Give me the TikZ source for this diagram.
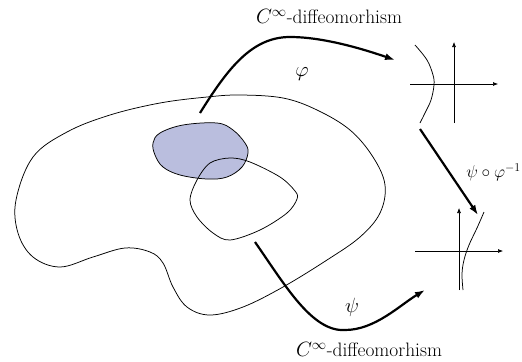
\documentclass[tikz,border=0pt]{standalone}
\usetikzlibrary{arrows.meta}
\definecolor{shade}{RGB}{186,190,222}
\begin{document}
\begin{tikzpicture}[x=1bp,y=-1bp,
  thinline/.style={line width=0.75bp},
  axis/.style={line width=0.6bp,-{Latex[length=5bp,width=4bp]}},
  maparrow/.style={line width=2.2bp,-{Latex[length=10bp,width=7bp]}},
  lbl/.style={inner sep=0pt,font=\fontsize{19.5}{23}\selectfont}]
\useasboundingbox (0,0) rectangle (522,361);
% outer manifold
\draw[thinline] plot[smooth cycle,tension=0.6] coordinates {
 (16,200) (33,157) (67,132) (110,115) (160,103) (207,97) (240,95) (283,98)
 (317,110) (350,130) (373,157) (385,185) (380,213) (360,237) (327,260)
 (283,287) (243,307) (210,315) (187,307) (173,287) (163,263) (150,252)
 (125,248) (93,257) (60,267) (33,257) (18,233)};
% shaded patch
\draw[thinline,fill=shade] plot[smooth cycle,tension=0.6] coordinates {
 (153,143) (160,133) (183,125) (217,123) (233,130) (245,143) (248,153)
 (242,167) (227,177) (207,179) (180,175) (163,167) (155,155)};
% inner loop
\draw[thinline] plot[smooth cycle,tension=0.55] coordinates {
 (230,158) (250,162) (280,177) (295,191) (297,199) (287,213) (260,230)
 (230,240) (213,233) (197,217) (190,200) (197,180) (210,163)};
% top chart
\coordinate (t0) at (454,123);
\coordinate (t1) at (454,42);
\coordinate (h0) at (410,84);
\coordinate (h1) at (498,84);
\draw[axis] (t0) -- (t1);
\draw[axis] (h0) -- (h1);
\draw[thinline] plot[smooth,tension=0.6] coordinates {
 (415,45) (427,60) (433,75) (434,85) (431,100) (425,113) (420,123)};
% bottom chart
\coordinate (b0) at (459,290);
\coordinate (b1) at (459,208);
\coordinate (g0) at (415,251);
\coordinate (g1) at (503,251);
\draw[axis] (b0) -- (b1);
\draw[axis] (g0) -- (g1);
\draw[thinline] plot[smooth,tension=0.6] coordinates {
 (484,212) (477,228) (469,245) (464,260) (462,274) (463,290)};
% maps
\coordinate (p0) at (200,113);
\coordinate (pm) at (290,37);
\coordinate (p1) at (395,60);
\draw[maparrow] (p0) .. controls (228,68) and (252,37) .. (pm)
  .. controls (322,37) and (360,48) .. (p1);
\coordinate (s0) at (255,242);
\coordinate (sm) at (345,330);
\coordinate (s1) at (425,290);
\draw[maparrow] (s0) .. controls (285,285) and (312,332) .. (sm)
  .. controls (375,330) and (400,305) .. (s1);
\coordinate (m0) at (420,129);
\coordinate (m1) at (478,215);
\draw[maparrow] (m0) -- (m1);
% labels
\node[lbl] (ltop) at (329,17) {$C^\infty$-diffeomorhism};
\node[lbl] (lbot) at (369,350) {$C^\infty$-diffeomorhism};
\node[lbl] (lphi) at (302,74) {$\varphi$};
\node[lbl] (lpsi) at (352,307) {$\psi$};
\node[lbl,anchor=east,font=\fontsize{17.5}{21}\selectfont] (lcomp) at (521,172) {$\psi\circ\varphi^{-1}$};
\end{tikzpicture}
\end{document}
